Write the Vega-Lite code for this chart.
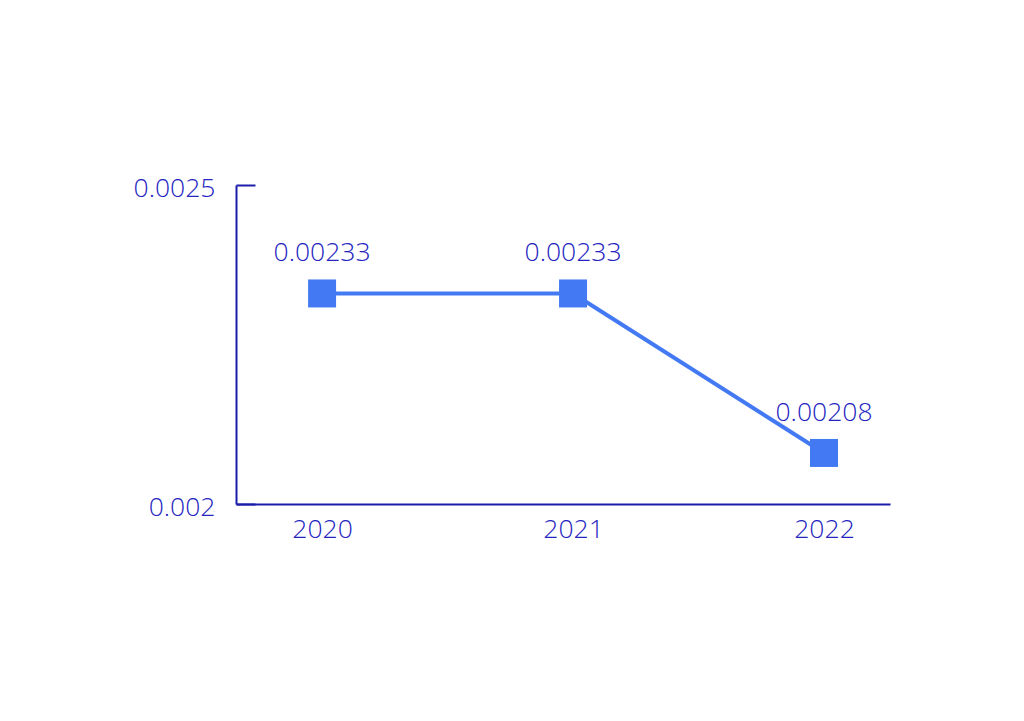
{
  "$schema": "https://vega.github.io/schema/vega-lite/v6.json",
  "width": 654,
  "height": 319,
  "autosize": "none",
  "padding": {"left": 236, "top": 185, "right": 134, "bottom": 217},
  "background": "white",
  "config": {"view": {"stroke": null}, "font": "Open Sans"},
  "data": {"values": [
    {"year": 2020, "value": 0.00233, "label": "0.00233"},
    {"year": 2021, "value": 0.00233, "label": "0.00233"},
    {"year": 2022, "value": 0.00208, "label": "0.00208"}
  ]},
  "encoding": {
    "x": {"field": "year", "type": "quantitative",
      "scale": {"domain": [2019.657, 2022.263], "nice": false, "zero": false},
      "axis": {"values": [2020, 2021, 2022], "format": "d", "title": null, "grid": false,
        "ticks": false, "domainColor": "#1c1caa", "domainWidth": 2,
        "labelFont": "Open Sans", "labelFontWeight": 300, "labelFontSize": 26.5, "labelColor": "#2424bf", "labelPadding": 12}},
    "y": {"field": "value", "type": "quantitative",
      "scale": {"domain": [0.002, 0.0025], "nice": false, "zero": false},
      "axis": {"values": [0.002, 0.0025], "format": ".4~f", "title": null, "grid": false,
        "ticks": true, "tickSize": -19, "tickColor": "#1c1caa", "tickWidth": 2,
        "domainColor": "#1c1caa", "domainWidth": 2,
        "labelFont": "Open Sans", "labelFontWeight": 300, "labelFontSize": 26.5, "labelColor": "#2424bf", "labelPadding": 40, "labelBaseline": "middle", "labelOffset": 3}}
  },
  "layer": [
    {"mark": {"type": "line", "color": "#437af3", "strokeWidth": 4}},
    {"mark": {"type": "point", "shape": "square", "filled": true, "opacity": 1, "color": "#437af3", "size": 784}},
    {"mark": {"type": "text", "font": "Open Sans", "fontWeight": 300, "fontSize": 26.5, "color": "#2424bf", "dy": -40, "baseline": "middle"},
      "encoding": {"text": {"field": "label"}}}
  ]
}
